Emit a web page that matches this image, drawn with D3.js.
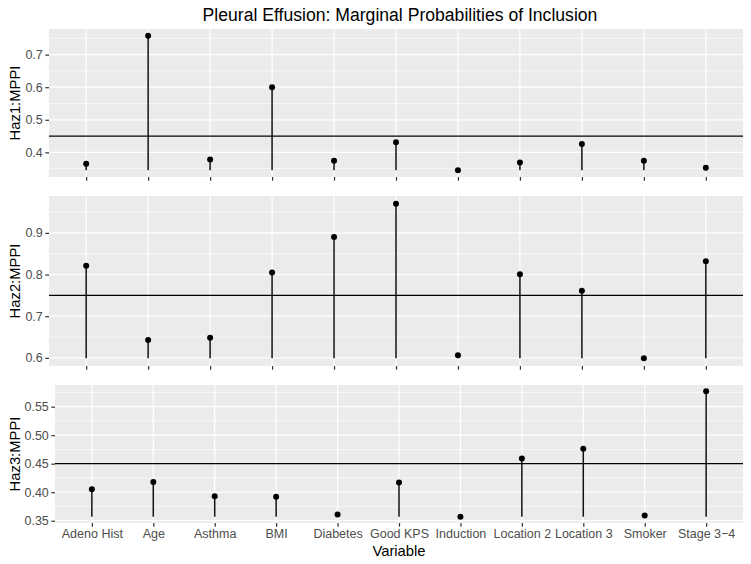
<!DOCTYPE html>
<html>
<head>
<meta charset="utf-8">
<script src="https://cdn.jsdelivr.net/npm/d3@7"></script>
<style>
  body { margin: 0; background: #fff; }
  text { font-family: "Liberation Sans", Arial, sans-serif; }
</style>
</head>
<body>
<div id="chart"></div>
<script>
var variables = ["Adeno Hist", "Age", "Asthma", "BMI", "Diabetes", "Good KPS", "Induction",
                 "Location 2", "Location 3", "Smoker", "Stage 3\u22124"];

var haz1 = [0.365, 0.758, 0.378, 0.600, 0.374, 0.431, 0.345, 0.369, 0.426, 0.374, 0.353];
var haz2 = [0.821, 0.643, 0.648, 0.805, 0.890, 0.970, 0.606, 0.801, 0.761, 0.599, 0.832];
var haz3 = [0.405, 0.418, 0.393, 0.392, 0.361, 0.417, 0.357, 0.459, 0.476, 0.359, 0.577];

var thresholds = [0.45, 0.75, 0.45];

var ticks1 = [0.4, 0.5, 0.6, 0.7];
var ticks2 = [0.6, 0.7, 0.8, 0.9];
var ticks3 = [0.35, 0.40, 0.45, 0.50, 0.55];

var width = 751, height = 564;

var svg = d3.select('#chart')
    .append('svg')
    .attr('width', width)
    .attr('height', height);

svg.append('text')
    .attr('x', 400)
    .attr('y', 21)
    .attr('text-anchor', 'middle')
    .attr('font-size', 17.6)
    .attr('fill', '#000')
    .text('Pleural Effusion: Marginal Probabilities of Inclusion');

var panels = [
    { values: haz1, ticks: ticks1, fmt: d3.format('.1f'), label: 'Haz1:MPPI', top: 29, bottom: 177, left: 49, showX: false, hline: thresholds[0] },
    { values: haz2, ticks: ticks2, fmt: d3.format('.1f'), label: 'Haz2:MPPI', top: 196, bottom: 366, left: 49, showX: false, hline: thresholds[1] },
    { values: haz3, ticks: ticks3, fmt: d3.format('.2f'), label: 'Haz3:MPPI', top: 385, bottom: 523, left: 55, showX: true, hline: thresholds[2] }
];

var right = 743;

panels.forEach(function(p) {
    var g = svg.append('g');

    var ext = d3.extent(p.values);
    var pad = (ext[1] - ext[0]) * 0.05;

    var y = d3.scaleLinear()
        .domain([ext[0] - pad, ext[1] + pad])
        .range([p.bottom, p.top]);

    var x = d3.scalePoint()
        .domain(variables)
        .range([p.left, right])
        .padding(0.6);

    g.append('rect')
        .attr('x', p.left)
        .attr('y', p.top)
        .attr('width', right - p.left)
        .attr('height', p.bottom - p.top)
        .attr('fill', '#EBEBEB');

    // minor grid: halfway between major breaks
    var step = p.ticks[1] - p.ticks[0];
    var minor = [];
    for (var i = -1; i < p.ticks.length; i++) {
        var m = p.ticks[0] + step * (i + 0.5);
        if (m > y.domain()[0] && m < y.domain()[1]) minor.push(m);
    }

    g.selectAll('.minor')
        .data(minor)
        .enter().append('line')
        .attr('x1', p.left).attr('x2', right)
        .attr('y1', function(d) { return y(d); })
        .attr('y2', function(d) { return y(d); })
        .attr('stroke', '#fff')
        .attr('stroke-width', 0.6);

    g.selectAll('.major')
        .data(p.ticks)
        .enter().append('line')
        .attr('x1', p.left).attr('x2', right)
        .attr('y1', function(d) { return y(d); })
        .attr('y2', function(d) { return y(d); })
        .attr('stroke', '#fff')
        .attr('stroke-width', 1.2);

    g.selectAll('.vgrid')
        .data(variables)
        .enter().append('line')
        .attr('x1', function(d) { return x(d); })
        .attr('x2', function(d) { return x(d); })
        .attr('y1', p.top).attr('y2', p.bottom)
        .attr('stroke', '#fff')
        .attr('stroke-width', 1.2);

    // y axis
    var yAxis = d3.axisLeft(y)
        .tickValues(p.ticks)
        .tickFormat(p.fmt)
        .tickSize(3.7)
        .tickPadding(2.5);

    var ya = g.append('g')
        .attr('transform', 'translate(' + p.left + ',0)')
        .call(yAxis);
    ya.select('.domain').remove();
    ya.selectAll('line').attr('stroke', '#333333').attr('stroke-width', 1.2);
    ya.selectAll('text').attr('fill', '#4D4D4D').attr('font-size', 12.5)
        .style('font-family', '"Liberation Sans", Arial, sans-serif');

    // x axis
    var xAxis = d3.axisBottom(x)
        .tickSize(3.7)
        .tickPadding(2.5)
        .tickFormat(p.showX ? null : function() { return ''; });

    var xa = g.append('g')
        .attr('transform', 'translate(0,' + p.bottom + ')')
        .call(xAxis);
    xa.select('.domain').remove();
    xa.selectAll('line').attr('stroke', '#333333').attr('stroke-width', 1.2);
    xa.selectAll('text').attr('fill', '#4D4D4D').attr('font-size', 12.5)
        .style('font-family', '"Liberation Sans", Arial, sans-serif');

    // threshold
    g.append('line')
        .attr('x1', p.left).attr('x2', right)
        .attr('y1', y(p.hline)).attr('y2', y(p.hline))
        .attr('stroke', '#000')
        .attr('stroke-width', 1.3);

    // stems from the panel minimum
    g.selectAll('.stem')
        .data(p.values)
        .enter().append('line')
        .attr('x1', function(d, i) { return x(variables[i]); })
        .attr('x2', function(d, i) { return x(variables[i]); })
        .attr('y1', y(ext[0]))
        .attr('y2', function(d) { return y(d); })
        .attr('stroke', '#111')
        .attr('stroke-width', 1.5);

    g.selectAll('.point')
        .data(p.values)
        .enter().append('circle')
        .attr('cx', function(d, i) { return x(variables[i]); })
        .attr('cy', function(d) { return y(d); })
        .attr('r', 3)
        .attr('fill', '#000');

    g.append('text')
        .attr('transform', 'translate(19.5,' + ((p.top + p.bottom) / 2) + ') rotate(-90)')
        .attr('text-anchor', 'middle')
        .attr('font-size', 14.8)
        .attr('fill', '#000')
        .text(p.label);

    if (p.showX) {
        g.append('text')
            .attr('x', (p.left + right) / 2)
            .attr('y', 556)
            .attr('text-anchor', 'middle')
            .attr('font-size', 14.8)
            .attr('fill', '#000')
            .text('Variable');
    }
});
</script>
</body>
</html>
